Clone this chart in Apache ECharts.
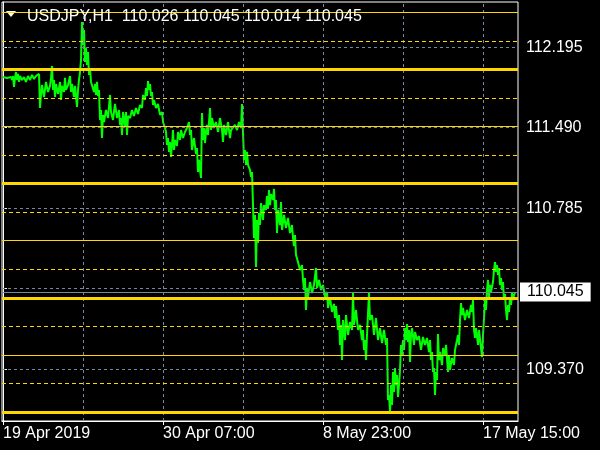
<!DOCTYPE html>
<html>
<head>
<meta charset="utf-8">
<script src="https://cdn.jsdelivr.net/npm/echarts@6/dist/echarts.min.js"></script>
<style>
html,body{margin:0;padding:0;background:#000;}
#c{width:600px;height:450px;}
</style>
</head>
<body>
<div id="c"></div>
<script>
// ---- data ----
const symbolTitle = 'USDJPY,H1  110.026 110.045 110.014 110.045';
const lastPrice = 110.045;

const sampleBar = [
0,2,4,6,8,9,10,11,12,13,14,15,16,17,19,21,23,25,27,29,31,33,35,36,37,38,39,41,43,45,47,48,49,50,51,52,53,55,57,58,59,61,62,63,65,67,68,69,71,72,74,75,76,77,78,79,80,81,82,83,84,85,86,87,88,90,91,92,93,94,95,96,97,98,99,100,101,103,105,107,108,110,112,114,116,117,118,119,120,122,123,124,125,127,129,131,133,135,137,139,140,142,143,144,145,146,147,148,149,150,151,153,155,157,159,160,162,163,164,165,166,167,168,169,170,171,172,174,175,177,178,180,182,184,186,187,188,189,191,193,194,195,196,197,198,199,200,201,202,203,204,205,206,207,208,209,211,213,215,217,219,220,221,223,225,227,228,230,232,234,236,238,239,240,241,242,243,244,245,247,248,249,
250,251,252,253,254,255,256,257,258,260,261,263,264,265,266,267,268,270,271,272,273,274,275,277,278,279,281,283,285,287,289,290,291,292,293,295,297,299,300,301,302,303,304,305,307,309,311,313,314,316,318,320,322,324,325,327,329,331,332,333,335,336,337,338,339,340,342,343,345,347,349,350,351,353,355,357,359,360,361,362,363,364,366,367,369,371,373,375,377,379,381,383,384,385,386,387,388,389,390,391,392,393,394,395,396,397,398,399,400,401,402,403,404,405,406,407,408,409,411,412,414,416,418,420,422,424,426,427,428,429,430,431,432,433,434,435,436,437,439,440,442,443,445,446,447,449,451,452,454,455,456,457,458,459,460,462,464,466,468,469,470,471,472,473,475,476,478,479,480,481,482,483,484,485,486,487,488,490,491,492,493,494,495,496,497,498,499,500,501,502,503,504,505,506,507,508,509,510,511,512
];
const samplePrice = [
111.933,111.942,111.925,111.942,111.933,111.907,111.942,111.846,111.925,111.977,111.907,111.960,111.890,111.942,111.907,111.933,111.890,111.942,111.907,111.951,111.916,111.942,111.925,111.960,111.662,111.776,111.863,111.758,111.890,111.802,111.855,111.925,112.030,111.820,111.907,111.758,111.872,111.785,111.890,111.732,111.855,111.802,111.925,111.820,111.863,111.942,111.802,111.872,111.758,111.855,111.671,111.820,111.907,111.977,112.082,112.415,112.214,112.345,112.065,112.187,112.038,112.152,111.951,112.012,111.890,111.907,111.802,111.872,111.776,111.890,111.767,111.820,111.557,111.644,111.399,111.601,111.539,111.644,111.574,111.776,111.627,111.557,111.697,111.574,111.644,111.513,111.574,111.425,111.627,111.504,111.627,111.425,111.592,111.574,111.644,111.592,111.662,111.609,111.688,111.662,111.776,111.732,111.837,111.767,111.898,111.820,111.872,111.767,111.802,111.688,111.732,111.662,111.697,111.601,111.627,111.539,111.487,111.452,111.338,111.399,111.277,111.364,111.233,111.338,111.469,111.294,111.382,111.329,111.452,111.382,111.469,111.399,111.452,111.487,111.539,111.425,111.469,111.294,111.399,111.259,111.312,111.101,111.207,111.119,111.049,111.618,111.382,111.487,111.355,111.452,111.513,111.425,111.539,111.662,111.469,111.574,111.487,111.539,111.452,111.574,111.469,111.364,111.513,111.425,111.539,111.399,111.469,111.452,111.513,111.469,111.539,111.487,111.697,111.452,111.207,111.294,111.163,111.277,111.163,111.119,111.058,111.101,
110.812,110.524,110.725,110.270,110.681,110.480,110.742,110.637,110.830,110.681,110.812,110.769,110.891,110.786,110.944,110.812,110.909,110.856,110.953,110.769,110.856,110.567,110.769,110.637,110.839,110.594,110.725,110.611,110.699,110.567,110.637,110.524,110.453,110.550,110.375,110.313,110.243,110.287,110.156,110.068,110.173,109.893,110.086,110.007,110.138,110.042,110.112,110.261,110.086,110.156,110.068,110.112,110.007,110.051,109.911,109.998,109.876,109.946,109.823,109.928,109.718,109.849,109.587,109.762,109.455,109.805,109.630,109.849,109.674,109.788,109.718,110.042,109.762,109.893,109.718,109.762,109.630,109.718,109.543,109.630,109.455,109.674,110.042,109.805,109.849,109.674,109.823,109.630,109.735,109.604,109.718,109.587,109.648,109.105,109.149,109.000,109.236,109.061,109.350,109.175,109.385,109.236,109.324,109.131,109.236,109.368,109.587,109.499,109.630,109.543,109.735,109.630,109.770,109.613,109.718,109.437,109.674,109.735,109.587,109.700,109.630,109.665,109.543,109.657,109.587,109.648,109.525,109.630,109.455,109.525,109.350,109.385,109.149,109.350,109.280,109.683,109.455,109.525,109.411,109.560,109.499,109.587,109.350,109.490,109.368,109.473,109.411,109.543,109.630,109.674,109.587,109.805,109.954,109.849,109.911,109.805,109.893,109.823,109.937,109.876,109.981,109.718,109.648,109.735,109.587,109.718,109.560,109.481,109.674,109.823,109.981,109.893,110.068,110.156,109.998,110.112,110.051,110.138,110.243,110.313,110.226,110.287,110.200,110.261,110.112,110.173,110.068,110.138,109.981,110.033,109.893,109.805,109.937,109.876,109.998,109.937,110.042,109.981,110.024,110.045
];

// price axis ticks (grid) and labels
const priceGrid = [112.195, 111.490, 110.785, 110.080, 109.370];
const priceLabels = [112.195, 111.490, 110.785, 109.370];
// time axis
const timeLabelBars = [0, 160, 320, 480];
const timeLabels = ['19 Apr 2019', '30 Apr 07:00', '8 May 23:00', '17 May 15:00'];
const timeGridBars = [80, 160, 240, 320, 400, 480];
// horizontal level lines
const levelThin = [112.5, 111.5, 110.5, 109.5];
const levelDashed = [112.25, 111.75, 111.25, 110.75, 110.25, 109.75, 109.25];
const levelThick = [112.0, 111.0, 110.0, 109.0];

// ---- chart ----
const GOLD = '#FFD700';
const GRIDC = '#778899';
const chart = echarts.init(document.getElementById('c'), null, {renderer: 'canvas'});

const pts = sampleBar.map((b, i) => [b, samplePrice[i]]);

const gridLines = []
  .concat(priceGrid.map(v => ({yAxis: v})))
  .concat(timeGridBars.map(v => ({xAxis: v})));

const goldLines = []
  .concat(levelDashed.map(v => ({yAxis: v, lineStyle: {color: GOLD, width: 1, type: [4, 3]}})))
  .concat(levelThin.map(v => ({yAxis: v, lineStyle: {color: GOLD, width: 1, type: 'solid'}})))
  .concat(levelThick.map(v => ({yAxis: v, lineStyle: {color: GOLD, width: 3, type: 'solid'}})));

const FONT = 'Liberation Sans';

chart.setOption({
  animation: false,
  backgroundColor: '#000',
  title: {
    text: symbolTitle,
    left: 22, top: 4,
    textStyle: {color: '#fff', fontSize: 16, fontWeight: 'normal', fontFamily: FONT}
  },
  graphic: [{
    type: 'polygon',
    shape: {points: [[6, 11], [16, 11], [11, 17]]},
    style: {fill: '#fff'}
  }],
  grid: {
    left: 2, top: 2, width: 516, height: 419,
    show: true, borderColor: '#fff', borderWidth: 1, backgroundColor: '#000'
  },
  xAxis: {
    type: 'value', min: -1, max: 515,
    axisLine: {show: true, lineStyle: {color: '#fff'}},
    axisTick: {show: true, customValues: timeLabelBars, length: 4, lineStyle: {color: '#fff'}},
    axisLabel: {
      customValues: timeLabelBars, color: '#fff', fontSize: 16, fontFamily: FONT,
      align: 'left', margin: 5,
      formatter: v => timeLabels[timeLabelBars.indexOf(Math.round(v))] || ''
    },
    splitLine: {show: false}
  },
  yAxis: {
    type: 'value', min: 108.921, max: 112.590, position: 'right',
    axisLine: {show: true, lineStyle: {color: '#fff'}},
    axisTick: {show: true, customValues: priceGrid, length: 4, lineStyle: {color: '#fff'}},
    axisLabel: {
      customValues: priceLabels, color: '#fff', fontSize: 16, fontFamily: FONT, margin: 8,
      formatter: v => v.toFixed(3)
    },
    splitLine: {show: false}
  },
  series: [
    {
      type: 'line', data: [], z: 1, silent: true,
      markLine: {
        silent: true, symbol: 'none', animation: false,
        label: {show: false},
        lineStyle: {color: GRIDC, width: 1, type: [3, 3]},
        data: gridLines
      }
    },
    {
      type: 'line', data: pts, z: 2, silent: true,
      showSymbol: false, symbol: 'none',
      lineStyle: {color: '#00FF00', width: 2},
      itemStyle: {color: '#00FF00'}
    },
    {
      type: 'line', data: [], z: 3, silent: true,
      markLine: {
        silent: true, symbol: 'none', animation: false,
        label: {show: false},
        data: goldLines
      }
    },
    {
      type: 'line', data: [], z: 4, silent: true,
      markLine: {
        silent: true, symbol: 'none', animation: false,
        lineStyle: {color: GRIDC, width: 1, type: 'solid'},
        label: {
          show: true, position: 'end', distance: 2,
          formatter: () => lastPrice.toFixed(3),
          color: '#000', backgroundColor: '#fff',
          fontSize: 16, fontFamily: FONT, padding: [2, 7, 1, 7]
        },
        data: [{yAxis: lastPrice}]
      }
    }
  ]
});
</script>
</body>
</html>
